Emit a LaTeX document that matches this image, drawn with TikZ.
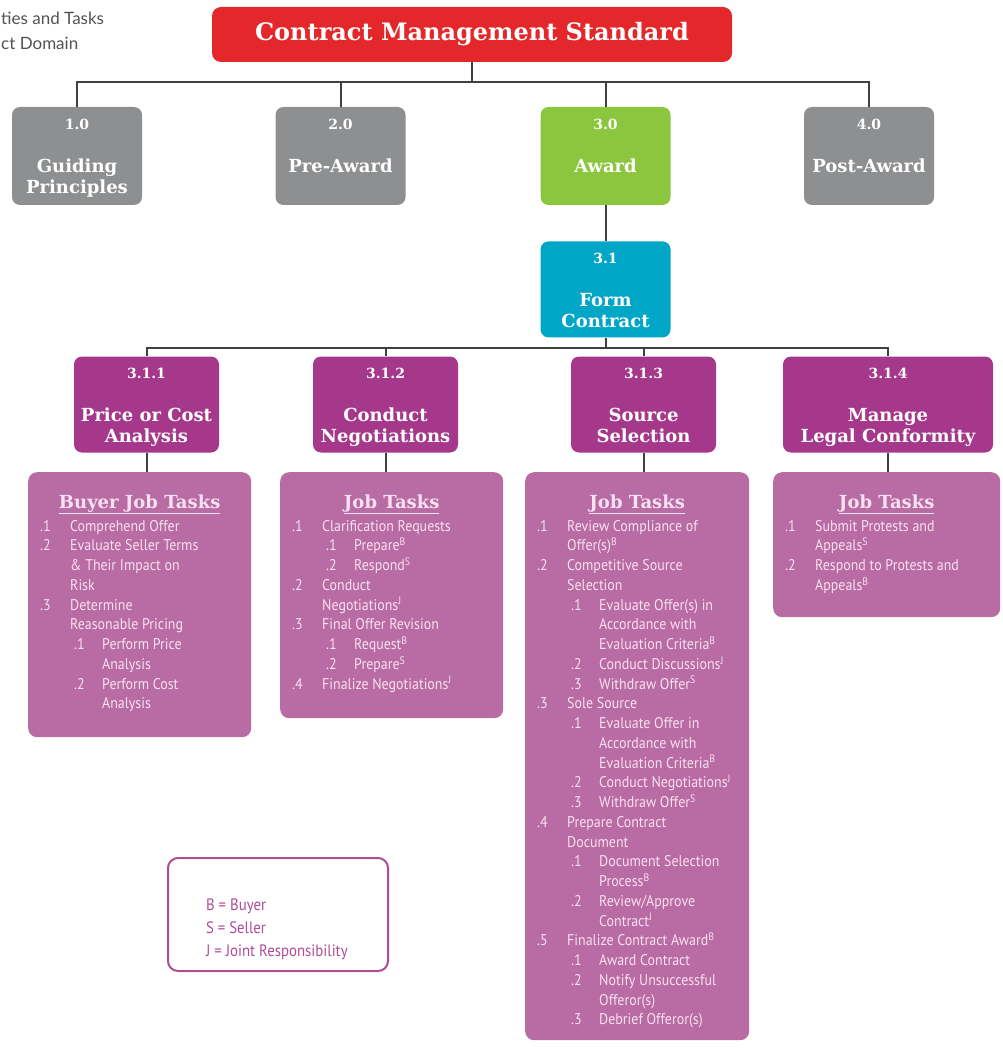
\documentclass[tikz,border=0pt]{standalone}
\usepackage{fontspec}
\setmainfont{PT Sans}[FakeStretch=0.9]
\newfontfamily\slabfont{DejaVu Serif}
\newfontfamily\notefont{Lato}
\usepackage{tikz}
\usetikzlibrary{positioning}
\usepackage{xcolor}

\definecolor{cmsred}{RGB}{228,39,42}
\definecolor{catgray}{RGB}{141,143,145}
\definecolor{awardgreen}{RGB}{140,198,62}
\definecolor{formteal}{RGB}{0,166,198}
\definecolor{submag}{RGB}{166,56,140}
\definecolor{jobpink}{RGB}{185,107,163}
\definecolor{tasktext}{RGB}{248,225,242}
\definecolor{keymag}{RGB}{176,76,150}
\definecolor{linegray}{RGB}{64,64,64}

% header box text: number line, then title lines
\newcommand{\numtxt}[1]{{\slabfont\bfseries\fontsize{14}{14}\selectfont #1}}
\newcommand{\hdline}[1]{\rule[-5pt]{0pt}{21pt}#1\par}
\newcommand{\boxtxt}[3][130pt]{\parbox[c][96pt][t]{#1}{\offinterlineskip\centering
  \rule[-5pt]{0pt}{27pt}\numtxt{#2}\par\vspace{22pt}%
  {\slabfont\bfseries\fontsize{18}{21}\selectfont #3}}}

% job task lines
\newcommand{\tstrut}{\rule[-5pt]{0pt}{19.75pt}}
\newcommand{\tka}[2]{\tstrut\hspace*{12pt}\makebox[30pt][l]{#1}#2\par}
\newcommand{\tkc}[1]{\tstrut\hspace*{42pt}#1\par}
\newcommand{\tkb}[2]{\tstrut\hspace*{46pt}\makebox[28pt][l]{#1}#2\par}
\newcommand{\tkd}[1]{\tstrut\hspace*{74pt}#1\par}
\newcommand{\hul}[1]{\setbox0\hbox{#1}\rlap{\rule[-6pt]{\wd0}{1.3pt}}\box0}
\newcommand{\jh}[1]{{\centering\rule[-7pt]{0pt}{43pt}{\slabfont\bfseries\fontsize{18}{18}\selectfont\hul{#1}}\par}\vspace{1.25pt}}
\newcommand{\jobtxt}[3]{\parbox[c][#1][t]{#2}{\offinterlineskip\raggedright\fontsize{15.5}{19.75}\selectfont #3}}
\newcommand{\sB}{\textsuperscript{B}}
\newcommand{\sS}{\textsuperscript{S}}
\newcommand{\sJ}{\textsuperscript{J}}

\begin{document}
\begin{tikzpicture}[
    x=1pt, y=-1pt,
    titlebox/.style={rectangle, fill=cmsred, rounded corners=9pt, minimum width=520pt, minimum height=55pt, text=white, font=\slabfont\bfseries\fontsize{24}{24}\selectfont},
    catbox/.style={rectangle, rounded corners=8pt, inner sep=0pt, minimum height=98pt, text=white},
    subbox/.style={rectangle, fill=submag, rounded corners=8pt, inner sep=0pt, minimum height=95pt, text=white},
    jobbox/.style={rectangle, fill=jobpink, rounded corners=9pt, inner sep=0pt, anchor=north west, text=tasktext},
    keybox/.style={rectangle, draw=keymag, line width=2pt, fill=white, rounded corners=10pt, inner sep=0pt, anchor=north west, text=keymag},
    note/.style={anchor=base west, inner sep=0pt, text=black!68, font=\notefont\fontsize{17}{17}\selectfont},
    conn/.style={draw=linegray, line width=2pt}
]
\useasboundingbox (0,0) rectangle (1002,1059);

% Corner note (cut off in the original)
\node[note] (note1) at (1,25) {ties and Tasks};
\node[note] (note2) at (1,50) {ct Domain};

% Top level
\node[titlebox] (cms) at (472,34.5) {Contract Management Standard};
\node[catbox, fill=catgray] (g1) at (77,156) {\boxtxt{1.0}{\hdline{Guiding}\hdline{Principles}}};
\node[catbox, fill=catgray] (g2) at (340.5,156) {\boxtxt{2.0}{\hdline{Pre-Award}}};
\node[catbox, fill=awardgreen] (g3) at (605.5,156) {\boxtxt{3.0}{\hdline{Award}}};
\node[catbox, fill=catgray] (g4) at (869,156) {\boxtxt{4.0}{\hdline{Post-Award}}};
\node[catbox, fill=formteal, minimum height=96pt, below=36pt of g3] (f31) {\boxtxt{3.1}{\hdline{Form}\hdline{Contract}}};

% Competencies
\node[subbox] (s1) at (146.5,404.5) {\boxtxt[145pt]{3.1.1}{\hdline{Price or Cost}\hdline{Analysis}}};
\node[subbox] (s2) at (385.5,404.5) {\boxtxt[145pt]{3.1.2}{\hdline{Conduct}\hdline{Negotiations}}};
\node[subbox] (s3) at (643.5,404.5) {\boxtxt[145pt]{3.1.3}{\hdline{Source}\hdline{Selection}}};
\node[subbox] (s4) at (888,404.5) {\boxtxt[210pt]{3.1.4}{\hdline{Manage}\hdline{Legal Conformity}}};

% Job tasks
\node[jobbox] (jt1) at (28,472) {\jobtxt{265pt}{223pt}{%
  \jh{Buyer Job Tasks}
  \tka{.1}{Comprehend Offer}
  \tka{.2}{Evaluate Seller Terms}
  \tkc{\& Their Impact on}
  \tkc{Risk}
  \tka{.3}{Determine}
  \tkc{Reasonable Pricing}
  \tkb{.1}{Perform Price}
  \tkd{Analysis}
  \tkb{.2}{Perform Cost}
  \tkd{Analysis}}};
\node[jobbox] (jt2) at (280,472) {\jobtxt{246pt}{223pt}{%
  \jh{Job Tasks}
  \tka{.1}{Clarification Requests}
  \tkb{.1}{Prepare\sB}
  \tkb{.2}{Respond\sS}
  \tka{.2}{Conduct}
  \tkc{Negotiations\sJ}
  \tka{.3}{Final Offer Revision}
  \tkb{.1}{Request\sB}
  \tkb{.2}{Prepare\sS}
  \tka{.4}{Finalize Negotiations\sJ}}};
\node[jobbox] (jt3) at (525,472) {\jobtxt{568pt}{224pt}{%
  \jh{Job Tasks}
  \tka{.1}{Review Compliance of}
  \tkc{Offer(s)\sB}
  \tka{.2}{Competitive Source}
  \tkc{Selection}
  \tkb{.1}{Evaluate Offer(s) in}
  \tkd{Accordance with}
  \tkd{Evaluation Criteria\sB}
  \tkb{.2}{Conduct Discussions\sJ}
  \tkb{.3}{Withdraw Offer\sS}
  \tka{.3}{Sole Source}
  \tkb{.1}{Evaluate Offer in}
  \tkd{Accordance with}
  \tkd{Evaluation Criteria\sB}
  \tkb{.2}{Conduct Negotiations\sJ}
  \tkb{.3}{Withdraw Offer\sS}
  \tka{.4}{Prepare Contract}
  \tkc{Document}
  \tkb{.1}{Document Selection}
  \tkd{Process\sB}
  \tkb{.2}{Review/Approve}
  \tkd{Contract\sJ}
  \tka{.5}{Finalize Contract Award\sB}
  \tkb{.1}{Award Contract}
  \tkb{.2}{Notify Unsuccessful}
  \tkd{Offeror(s)}
  \tkb{.3}{Debrief Offeror(s)}}};
\node[jobbox] (jt4) at (773,472) {\jobtxt{145pt}{227pt}{%
  \jh{Job Tasks}
  \tka{.1}{Submit Protests and}
  \tkc{Appeals\sS}
  \tka{.2}{Respond to Protests and}
  \tkc{Appeals\sB}}};

% Legend
\node[keybox] (key) at (167,857) {\parbox[c][113pt][t]{220pt}{\offinterlineskip\raggedright\fontsize{16.5}{16.5}\selectfont
  \rule[-5pt]{0pt}{57pt}\hspace*{38pt}B = Buyer\par
  \rule[-5pt]{0pt}{23pt}\hspace*{38pt}S = Seller\par
  \rule[-5pt]{0pt}{23pt}\hspace*{38pt}J = Joint Responsibility\par}};

% Connectors
\draw[conn] (cms.south) -- ++(0,20) coordinate (bus1);
\foreach \g in {g1,g2,g3,g4}
  \draw[conn] (bus1) -| (\g.north);
\draw[conn] (g3.south) -- (f31.north);
\draw[conn] (f31.south) -- ++(0,10) coordinate (bus2);
\foreach \s in {s1,s2,s3,s4}
  \draw[conn] (bus2) -| (\s.north);
\draw[conn] (s1.south) -- (s1.south |- jt1.north);
\draw[conn] (s2.south) -- (s2.south |- jt2.north);
\draw[conn] (s3.south) -- (s3.south |- jt3.north);
\draw[conn] (s4.south) -- (s4.south |- jt4.north);
\end{tikzpicture}
\end{document}
